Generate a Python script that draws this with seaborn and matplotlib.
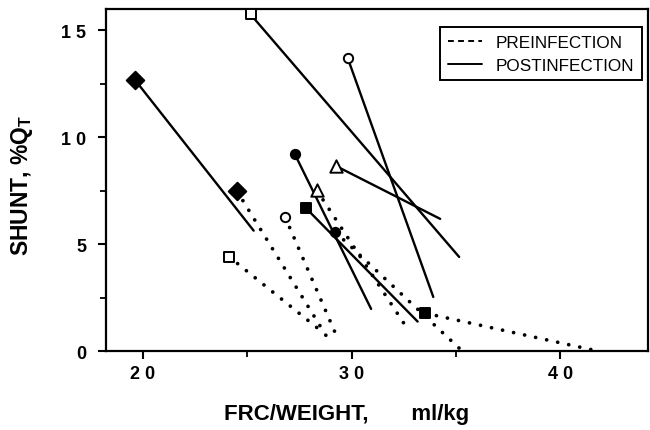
import matplotlib
matplotlib.use("Agg")
import matplotlib.pyplot as plt
import seaborn as sns
import pandas as pd
from matplotlib.lines import Line2D

# ---- data ----
subjects = ["filled diamond", "open square", "open circle",
            "open triangle", "filled circle", "filled square"]
markers = ["D", "s", "o", "^", "o", "s"]
filled = [True, False, False, False, True, True]

post_x0 = [19.60, 25.15, 29.81, 29.25, 27.26, 27.79]
post_y0 = [12.70, 15.75, 13.70, 8.66, 9.24, 6.71]
post_x1 = [25.30, 35.15, 33.91, 34.24, 30.93, 33.16]
post_y1 = [5.64, 4.41, 2.54, 6.19, 1.98, 1.39]

pre_x0 = [24.50, 24.11, 26.81, 28.33, 29.22, 33.53]
pre_y0 = [7.49, 4.43, 6.27, 7.52, 5.57, 1.78]
pre_x1 = [28.95, 28.71, 29.37, 32.68, 35.31, 41.85]
pre_y1 = [0.45, 0.81, 0.50, 1.04, 0.00, 0.00]

x_ticks = [20, 30, 40]
x_ticklabels = ["2 0", "3 0", "4 0"]
y_ticks = [0, 5, 10, 15]
y_ticklabels = ["0", "5", "1 0", "1 5"]
x_minor = [25, 35]
y_minor = [2.5, 7.5, 12.5]

sns.set_theme(style="ticks")
plt.rcParams["font.family"] = ["Liberation Sans", "DejaVu Sans"]
plt.rcParams["mathtext.fontset"] = "custom"
plt.rcParams["mathtext.rm"] = "Liberation Sans"
plt.rcParams["mathtext.bf"] = "Liberation Sans:bold"
for k in ["text.color", "axes.labelcolor", "xtick.color", "ytick.color",
          "xtick.labelcolor", "ytick.labelcolor", "axes.edgecolor"]:
    plt.rcParams[k] = "black"

rows = []
for i, s in enumerate(subjects):
    rows.append(dict(subject=s, phase="pre", x=pre_x0[i], y=pre_y0[i], start=True))
    rows.append(dict(subject=s, phase="pre", x=pre_x1[i], y=pre_y1[i], start=False))
    rows.append(dict(subject=s, phase="post", x=post_x0[i], y=post_y0[i], start=True))
    rows.append(dict(subject=s, phase="post", x=post_x1[i], y=post_y1[i], start=False))
df = pd.DataFrame(rows)

fig = plt.figure(figsize=(6.5, 4.31), dpi=100)
ax = fig.add_axes([105.5 / 650, 1 - 352.3 / 431, (648 - 105.5) / 650, (352.3 - 10) / 431])

dotted = (0, (0.01, 3.0))
for i, s in enumerate(subjects):
    for ph in ["pre", "post"]:
        d = df[(df.subject == s) & (df.phase == ph)]
        if ph == "pre":
            sns.lineplot(data=d, x="x", y="y", ax=ax, color="black", sort=False,
                         estimator=None, lw=2.7, linestyle=dotted,
                         dash_capstyle="round", zorder=2)
        else:
            sns.lineplot(data=d, x="x", y="y", ax=ax, color="black", sort=False,
                         estimator=None, lw=1.7, zorder=2)
        st = d[d.start]
        m = markers[i]
        size = 80 if m in ("D", "^") else 45
        sns.scatterplot(data=st, x="x", y="y", ax=ax, marker=m, s=size,
                        color="black" if filled[i] else "white",
                        edgecolor="black", linewidth=1.4, zorder=4, clip_on=False)

ax.set_xlim(18.2, 44.2)
ax.set_ylim(0, 16.0)
ax.set_xticks(x_ticks)
ax.set_xticklabels(x_ticklabels, fontweight="bold", fontsize=13)
ax.set_yticks(y_ticks)
ax.set_yticklabels(y_ticklabels, fontweight="bold", fontsize=13)
ax.set_xticks(x_minor, minor=True)
ax.set_yticks(y_minor, minor=True)
ax.tick_params(which="major", direction="out", length=6, width=1.5, color="black")
ax.tick_params(axis="x", which="major", pad=4)
ax.tick_params(axis="y", which="major", pad=8)
ax.tick_params(which="minor", direction="out", length=4, width=1.3, color="black")

for sp in ax.spines.values():
    sp.set_visible(True)
    sp.set_linewidth(1.6)
    sp.set_color("black")

ax.set_xlabel("FRC/WEIGHT,       ml/kg", fontweight="bold", fontsize=16)
ax.xaxis.set_label_coords((347 - 105.5) / 542.5, -(415 - 352.3) / 342.3, transform=ax.transAxes)
ax.xaxis.label.set_va("center")
ax.set_ylabel(r"SHUNT, %Q$_{\mathbf{T}}$", fontweight="bold", fontsize=16.5)
ax.yaxis.set_label_coords(-(105.5 - 22) / 542.5, (352.3 - 185) / 342.3, transform=ax.transAxes)
ax.yaxis.label.set_va("center")

handles = [Line2D([], [], color="black", lw=1.4, linestyle=(0, (3.0, 2.2))),
           Line2D([], [], color="black", lw=1.4)]
leg = ax.legend(handles, ["PREINFECTION", "POSTINFECTION"], loc="upper right",
                bbox_to_anchor=(0.989, 0.947), borderaxespad=0, fancybox=False,
                framealpha=1, edgecolor="black", fontsize=12.3, handlelength=2.0,
                handletextpad=0.8, labelspacing=0.45, borderpad=0.45)
leg.get_frame().set_linewidth(1.4)
for t in leg.get_texts():
    t.set_color("black")

fig.savefig("out.png", dpi=100)
